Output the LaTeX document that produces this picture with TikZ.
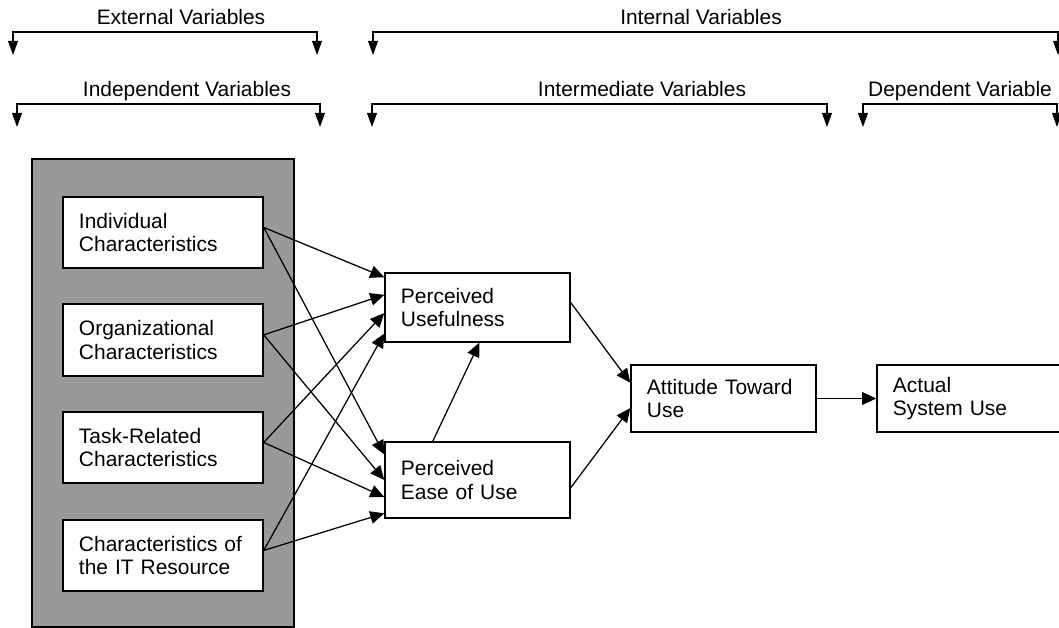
\documentclass[tikz,border=0pt]{standalone}
\usepackage{fontspec}
\setmainfont{Liberation Sans}
\usetikzlibrary{arrows.meta,calc}

\tikzset{
  box/.style 2 args={draw, fill=white, line width=1pt, text width=#1,
    minimum height=#2, inner xsep=0.4cm, align=left,
    font=\fontsize{14.9}{16.4}\selectfont},
  link/.style={-{Triangle[length=10pt,width=9pt]}, line width=0.9pt},
  brace/.style={{Triangle[length=10pt,width=7pt]}-{Triangle[length=10pt,width=7pt]},
    line width=0.9pt},
  heading/.style={anchor=base, font=\fontsize{14.9}{16.4}\selectfont},
  panel/.style={draw, fill=black!40, line width=1pt, inner sep=0pt},
}

\begin{document}
\begin{tikzpicture}[x=0.025cm,y=-0.025cm]
\useasboundingbox (0,0) rectangle (1059,628);
\clip (0,0) rectangle (1059,628);

% variable groups over the model
\foreach \name/\xl/\xr/\yl/\lx/\txt in {ext/13/317/55/181/External Variables,
    int/373/1058/55/701/Internal Variables,
    ind/17/320/127/187/Independent Variables,
    imd/372/827/127/642/Intermediate Variables,
    dep/863/1057/127/960/Dependent Variable}{
  \coordinate (\name-l) at (\xl,\yl);
  \coordinate (\name-r) at (\xr,\yl);
  \node[heading] (\name) at (\lx,\yl-30) {\txt};
  \draw[brace] (\name-l) -- ++(0,-23) -| (\name-r);
}

% external factors
\node[panel, minimum width=6.55cm, minimum height=11.7cm] (extpanel) at (163,393) {};
\node[box={4.2cm}{1.775cm}] (indiv) at (163,232.5) {Individual\\Characteristics};
\node[box={4.2cm}{1.8cm}] (org) at (163,340) {Organizational\\Characteristics};
\node[box={4.2cm}{1.775cm}] (task) at (163,447.5) {Task-Related\\Characteristics};
\node[box={4.2cm}{1.775cm}] (itres) at (163,555.5) {Characteristics of\\the IT Resource};

% TAM core
\node[box={3.825cm}{1.725cm}] (pu) at (477.5,307.5) {Perceived\\Usefulness};
\node[box={3.825cm}{1.9cm}] (peou) at (477.5,480) {Perceived\\Ease of Use};
\node[box={3.825cm}{1.675cm}] (att) at (723.5,398.5) {Attitude Toward\\Use};
\node[box={3.825cm}{1.675cm}] (use) at (969.5,398.5) {Actual\\System Use};

\foreach \src/\a/\b in {indiv/0.07/0.17, org/0.32/0.5, task/0.58/0.72, itres/0.87/0.93}{
  \draw[link] ($(\src.north east)!0.43!(\src.south east)$) -- ($(pu.north west)!\a!(pu.south west)$);
  \draw[link] ($(\src.north east)!0.43!(\src.south east)$) -- ($(peou.north west)!\b!(peou.south west)$);
}
\draw[link] ($(peou.north west)!0.26!(peou.north east)$) -- ($(pu.south west)!0.51!(pu.south east)$);
\draw[link] ($(pu.north east)!0.43!(pu.south east)$) -- ($(att.north west)!0.27!(att.south west)$);
\draw[link] ($(peou.north east)!0.6!(peou.south east)$) -- ($(att.north west)!0.64!(att.south west)$);
\draw[link] (att) -- (use);
\end{tikzpicture}
\end{document}
